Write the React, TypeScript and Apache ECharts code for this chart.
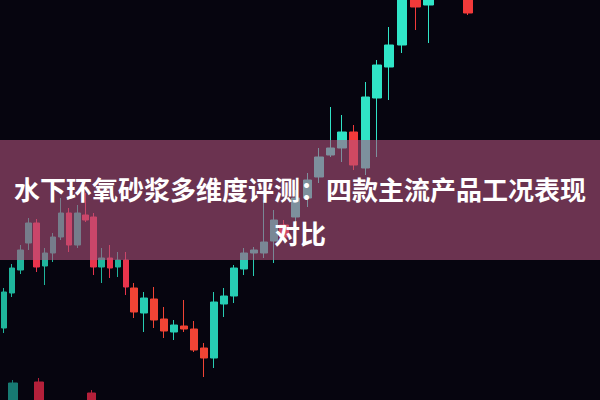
import React, { useEffect, useRef } from 'react';
import * as echarts from 'echarts';

// Title text (two lines)
const titleLines = ['水下环氧砂浆多维度评测：四款主流产品工况表现', '对比'];

// Candles: [open, close, low, high]
const candlesA = [
  [17.2, 20.8, 16.7, 21.2],
  [20.7, 23.2, 20.3, 23.6],
  [23.0, 25.0, 22.6, 25.5],
  [25.7, 27.7, 25.0, 28.2],
  [27.7, 23.3, 22.8, 28.1],
  [23.4, 24.7, 21.5, 25.2],
  [24.7, 26.3, 23.8, 26.7],
  [26.3, 28.7, 26.0, 30.2],
  [28.7, 25.5, 24.8, 29.2],
  [25.5, 28.7, 25.2, 29.5],
  [28.5, 28.0, 27.8, 30.7],
  [28.3, 23.3, 22.5, 28.7],
  [23.3, 24.2, 21.7, 25.2],
  [24.2, 23.2, 22.2, 25.5],
  [23.3, 24.0, 22.3, 24.8],
  [24.0, 21.3, 20.5, 24.8],
];

const candlesB = [
  [21.2, 18.8, 18.2, 21.7],
  [18.7, 20.2, 16.8, 20.8],
  [20.1, 18.0, 17.2, 21.3],
  [18.1, 16.9, 16.2, 19.3],
  [16.8, 17.5, 16.0, 18.0],
  [17.4, 17.1, 16.8, 20.0],
  [17.1, 15.0, 14.8, 17.9],
  [15.2, 14.2, 12.3, 15.7],
  [14.2, 19.8, 13.2, 20.8],
  [19.6, 20.4, 18.3, 21.2],
  [20.4, 23.2, 19.7, 23.5],
  [23.1, 24.7, 22.5, 25.2],
  [24.7, 25.0, 22.4, 25.3],
  [24.7, 25.8, 24.2, 30.0],
  [25.9, 28.0, 23.7, 29.0],
];

const candlesC = [
  [27.5, 26.3, 26.0, 28.0],
  [28.3, 30.2, 27.5, 31.0],
  [30.2, 32.0, 29.3, 32.7],
  [32.3, 34.3, 31.7, 35.2],
  [34.5, 35.2, 34.3, 39.3],
  [35.2, 36.8, 33.8, 38.5],
  [36.8, 33.5, 33.0, 37.5],
  [33.2, 40.3, 32.5, 41.8],
  [40.2, 43.5, 34.3, 44.0],
];

const candlesD = [
  [43.3, 45.5, 40.0, 47.3],
  [45.5, 52.0, 44.7, 53.0],
  [51.5, 49.3, 47.0, 52.5],
  [49.5, 53.0, 45.7, 54.0],
  [53.0, 55.0, 52.0, 56.0],
  [55.0, 56.5, 54.0, 57.0],
  [53.0, 48.7, 48.5, 54.0],
];

// Out-of-focus foreground candles (bottom left)
const candlesFront = [
  [9.0, 11.7, 8.0, 12.0],
  [11.8, 8.0, 7.5, 12.2],
  ['-', '-', '-', '-'],
  [10.7, 8.0, 7.5, 11.0],
];

const Y_MIN = 10;
const Y_MAX = 50;

const segments = [
  { data: candlesFront, left: -10.3, width: 114.8, barWidth: 9, up: '#177a72', down: '#b4203a', z: 5 },
  { data: candlesA, left: -2.1, width: 132.3, barWidth: 6, up: '#1fb59c', down: '#e8344c', z: 2 },
  { data: candlesB, left: 129, width: 150, barWidth: 7, up: '#27cdb3', down: '#f04435', z: 2 },
  { data: candlesC, left: 278.2, width: 104.6, barWidth: 9, up: '#30e3c6', down: '#f23a3a', z: 2 },
  { data: candlesD, left: 382.4, width: 92.2, barWidth: 10, up: '#30e6c8', down: '#f23a3a', z: 2 },
];

export default function App() {
  const ref = useRef<HTMLDivElement>(null);
  useEffect(() => {
    if (!ref.current) return;
    const chart = echarts.init(ref.current, null, { renderer: 'svg' });
    chart.setOption({
      animation: false,
      backgroundColor: '#06050f',
      grid: segments.map((s) => ({ left: s.left, width: s.width, top: 0, height: 400 })),
      xAxis: segments.map((s, i) => ({
        type: 'category',
        gridIndex: i,
        data: s.data.map((_, j) => String(j)),
        boundaryGap: true,
        show: false,
      })),
      yAxis: segments.map((_, i) => ({
        type: 'value',
        gridIndex: i,
        min: Y_MIN,
        max: Y_MAX,
        show: false,
      })),
      series: segments.map((s, i) => ({
        type: 'candlestick',
        xAxisIndex: i,
        yAxisIndex: i,
        data: s.data,
        barWidth: s.barWidth,
        z: s.z,
        clip: true,
        itemStyle: {
          color: s.up,
          color0: s.down,
          borderColor: s.up,
          borderColor0: s.down,
          borderWidth: 1,
        },
      })),
      graphic: [
        {
          type: 'rect',
          z: 100,
          shape: { x: 0, y: 140, width: 600, height: 120 },
          style: { fill: 'rgba(181,84,128,0.58)' },
        },
        {
          type: 'text',
          z: 101,
          x: 300,
          y: 210,
          style: {
            text: titleLines.join('\n'),
            fill: '#ffffff',
            font: 'bold 26px "Noto Sans CJK SC"',
            align: 'center',
            verticalAlign: 'middle',
            lineHeight: 44,
          },
        },
      ],
    });
    return () => chart.dispose();
  }, []);
  return (
    <div
      ref={ref}
      style={{ position: 'fixed', left: 0, top: 0, width: 600, height: 400 }}
    />
  );
}
